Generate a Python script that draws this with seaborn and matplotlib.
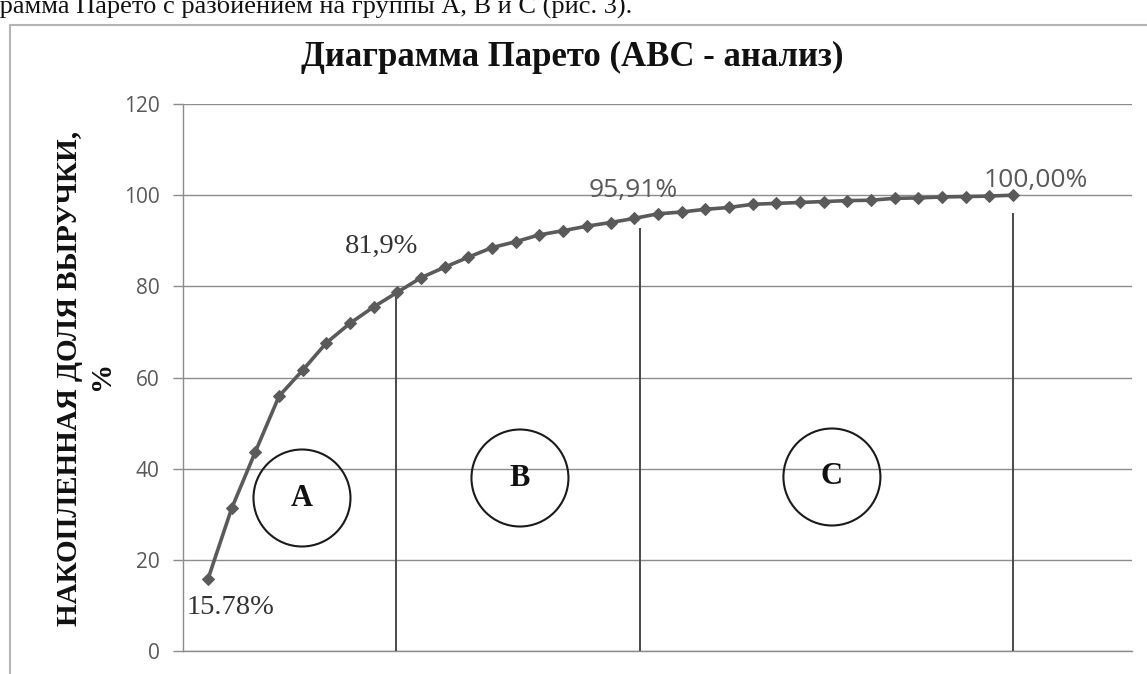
import numpy as np
import pandas as pd
import matplotlib
matplotlib.use("Agg")
import matplotlib.pyplot as plt
from matplotlib.patches import Ellipse
from matplotlib.lines import Line2D
import seaborn as sns

# Cumulative share of revenue (%) for items sorted by their contribution
item_no = list(range(1, 36))
cum_share = [15.78, 31.3, 43.7, 55.9, 61.6, 67.6, 71.9, 75.5, 78.7, 81.9,
             84.2, 86.4, 88.5, 89.8, 91.3, 92.2, 93.2, 94.0, 94.9, 95.91,
             96.3, 96.9, 97.3, 98.0, 98.2, 98.4, 98.6, 98.8, 98.9, 99.3,
             99.4, 99.6, 99.7, 99.8, 100.0]

# Annotated points: item index (0-based) and the label shown next to it
label_idx = [0, 9, 19, 34]
label_text = ["15.78%", "81,9%", "95,91%", "100,00%"]

# ABC groups
group_names = ["A", "B", "C"]

y_ticks = [0, 20, 40, 60, 80, 100, 120]

sns.set_style("white")
plt.rcParams["font.family"] = ["Liberation Serif", "DejaVu Serif"]

W, H = 1147, 674
fig = plt.figure(figsize=(W / 100, H / 100), dpi=100)
fig.patch.set_facecolor("white")

left, right, top, bottom = 183, 1132, 104, 651
ax = fig.add_axes([left / W, 1 - bottom / H, (right - left) / W, (bottom - top) / H])

df = pd.DataFrame({"item": item_no, "share": cum_share})
line_col = "#5a5a5a"
sns.lineplot(data=df, x="item", y="share", ax=ax, color=line_col,
             linewidth=2.6, marker="D", markersize=6.5, markeredgecolor=line_col,
             markerfacecolor=line_col, zorder=5)

ax.set_ylim(0, 120)
ax.set_xlim(1 - 25 / 23.68, 35 + 119 / 23.68)
ax.set_yticks(y_ticks)
ax.set_xticks([])
ax.set_xlabel("")
ax.set_ylabel("")

grid_col = "#8c8c8c"
ax.yaxis.grid(True, color=grid_col, linewidth=1.0)
ax.xaxis.grid(False)
ax.set_axisbelow(True)
for s in ["top", "right"]:
    ax.spines[s].set_visible(False)
for s in ["left", "bottom"]:
    ax.spines[s].set_color(grid_col)
    ax.spines[s].set_linewidth(1.0)
ax.tick_params(axis="y", length=7, width=1, color=grid_col, labelcolor="#595959",
               labelsize=15, pad=10, left=True)
for t in ax.get_yticklabels():
    t.set_fontfamily("Open Sans")

# Group boundaries
bound_x = [8.94, 19.24, 35.0]
bound_top = [79.2, 92.8, 96.0]
ax.vlines(bound_x, 0, bound_top, color="#4a4a4a", linewidth=1.4, zorder=3)

# Point labels
offsets = [(22, -28), (-40, 31), (-25, 23), (23, 15)]
styles = [
    dict(family="Liberation Serif", size=20.5, color="#333333"),
    dict(family="Liberation Serif", size=20.5, color="#333333"),
    dict(family="Open Sans", size=19, color="#595959"),
    dict(family="Open Sans", size=19, color="#595959"),
]
for i, txt, off, st in zip(label_idx, label_text, offsets, styles):
    ax.annotate(txt, xy=(item_no[i], cum_share[i]), xytext=off,
                textcoords="offset pixels", ha="center", va="center",
                fontfamily=st["family"], fontsize=st["size"], color=st["color"],
                zorder=6)

# Group markers: circled letters
px_per_item = 23.68
px_per_unit = (bottom - top) / 120
circle_px = [(302, 498), (520, 478), (832, 477)]
diam = 97
for name, (cx, cy) in zip(group_names, circle_px):
    xd = 1 + (cx - 208) / px_per_item
    yd = (bottom - cy) / px_per_unit
    ax.add_patch(Ellipse((xd, yd), diam / px_per_item, diam / px_per_unit,
                         fill=False, edgecolor="#1a1a1a", linewidth=1.5, zorder=4))
    ax.text(xd, yd, name, ha="center", va="center", fontsize=22,
            fontweight="bold", family="Liberation Serif", color="#111111", zorder=6)

# Title and axis label
fig.text(572 / W, 1 - 57 / H, "Диаграмма Парето (ABC - анализ)", ha="center",
         va="center", fontsize=25, fontweight="bold", family="Liberation Serif",
         color="#111111")
fig.text(70 / W, 1 - 378 / H, "НАКОПЛЕННАЯ ДОЛЯ ВЫРУЧКИ,", rotation=90,
         ha="center", va="center", fontsize=21, fontweight="bold",
         family="Liberation Serif", color="#111111")
fig.text(101 / W, 1 - 375 / H, "%", rotation=90, ha="center", va="center",
         fontsize=21, fontweight="bold", family="Liberation Serif", color="#111111")

# Chart frame
frame_col = "#b4b4b4"
fig.add_artist(Line2D([10 / W, 1], [1 - 25 / H, 1 - 25 / H], color=frame_col,
                      linewidth=1.5, transform=fig.transFigure))
fig.add_artist(Line2D([10 / W, 10 / W], [0, 1 - 25 / H], color=frame_col,
                      linewidth=1.5, transform=fig.transFigure))

# Preceding sentence of the document, cut by the top edge
caption = "Диаграмма Парето с разбиением на группы А, В и С (рис. 3)."
renderer = fig.canvas.get_renderer()
probe = fig.text(0, 0, "Диаг", fontsize=19, family="Liberation Serif")
shift = probe.get_window_extent(renderer).width
probe.remove()
fig.text(-shift / W, 1 - 13 / H, caption, ha="left", va="baseline",
         fontsize=19, family="Liberation Serif", color="#111111")

fig.savefig("out.png", dpi=100)
